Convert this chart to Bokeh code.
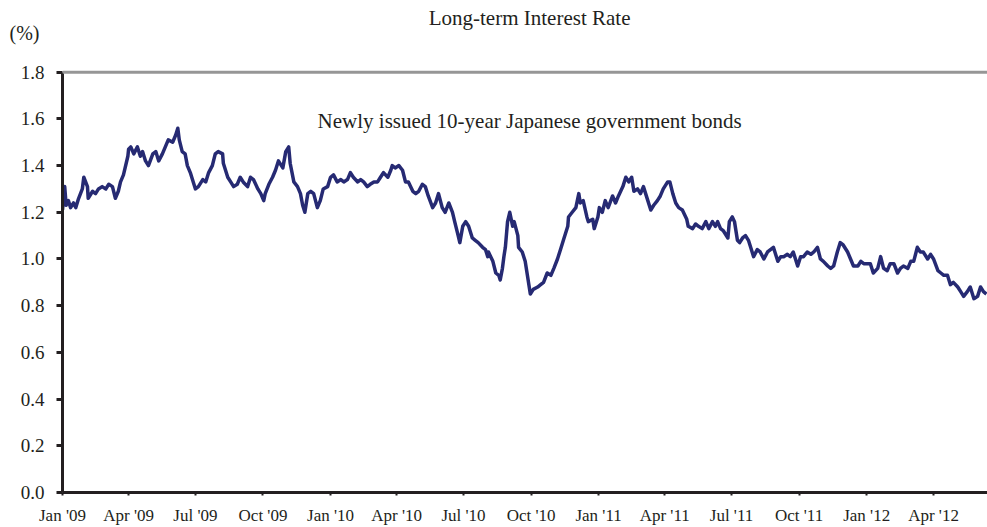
import pandas as pd
from bokeh.plotting import figure
from bokeh.models import Range1d, FixedTicker, Label, Span, NumeralTickFormatter, LinearAxis
from bokeh.embed import file_html
from bokeh.resources import INLINE

# ---------------- data ----------------
start_date = "2009-01-01"
# observation day (days since 2009-01-01)
obs_day = [
    0, 3, 5, 8, 11, 15, 18, 22, 27, 29, 34, 35, 41, 45, 49, 54, 59, 63, 68, 72, 76, 79, 83, 89, 90, 93, 97, 102,
    106, 109, 113, 117, 123, 127, 131, 136, 140, 144, 150, 154, 157, 159, 163, 167, 170, 174, 178, 181, 185, 191,
    195, 199, 204, 208, 212,
    218, 219, 225, 229, 233, 238, 242, 246, 252, 256, 260, 266, 270, 274, 276, 281, 286, 290, 294, 300, 304, 308,
    310, 315, 320, 324, 327, 330, 334, 338, 342, 347, 351, 355, 361, 365, 369, 374, 379, 383, 388, 392, 396, 402,
    406, 410, 415, 419, 424,
    429, 433, 437, 443, 447, 449, 453, 458, 463, 467, 471, 477, 481, 485, 490, 494, 498, 504, 508, 512, 517, 521,
    526, 531, 534, 538, 541, 545, 549, 553, 558, 562, 566, 572, 576, 579, 580, 586, 590, 594, 596, 599, 601, 603,
    606, 609, 613, 615, 620, 621, 626, 630, 633, 637,
    641, 647, 651, 655, 660, 665, 669, 674, 678, 682, 688, 689, 694, 699, 703, 705, 709, 714, 716, 722, 724, 729,
    731, 735, 739, 743, 749, 753, 757, 763, 767, 771, 775, 778, 783, 787, 791, 797, 801, 805, 810, 814, 818, 824,
    827, 831, 835, 839, 844,
    850, 852, 858, 862, 866, 871, 876, 880, 885, 889, 892, 896, 900, 906, 908, 912, 915, 919, 922, 926, 930, 934,
    937, 941, 946, 950, 955, 960, 964, 968, 974, 978, 982, 987, 991, 995, 1001, 1005, 1009, 1014, 1019, 1023,
    1028, 1032, 1036, 1042, 1046, 1050, 1055, 1059,
    1063, 1069, 1073, 1077, 1083, 1087, 1091, 1096, 1100, 1104, 1110, 1114, 1118, 1123, 1127, 1132, 1137, 1141,
    1145, 1151, 1155, 1159, 1164, 1168, 1172, 1178, 1182, 1186, 1192, 1196, 1200, 1205, 1209, 1213, 1219, 1223,
    1227, 1232, 1236, 1241, 1246, 1250, 1254, 1258,
]
# newly issued 10-year JGB yield (%)
jgb10y = [
    1.21, 1.31, 1.23, 1.25, 1.22, 1.24, 1.22, 1.26, 1.30, 1.35, 1.31, 1.26, 1.29, 1.28, 1.30, 1.31, 1.30, 1.32,
    1.31, 1.26, 1.29, 1.33, 1.36, 1.44, 1.47, 1.48, 1.45, 1.48, 1.44, 1.46, 1.42, 1.40, 1.45, 1.46, 1.42, 1.45,
    1.48, 1.51, 1.50, 1.53, 1.56, 1.51, 1.46, 1.45, 1.40, 1.37, 1.33, 1.30, 1.31, 1.34, 1.33, 1.37, 1.40, 1.45,
    1.46,
    1.45, 1.41, 1.35, 1.33, 1.31, 1.32, 1.35, 1.33, 1.31, 1.35, 1.34, 1.30, 1.28, 1.25, 1.28, 1.32, 1.35, 1.38,
    1.42, 1.39, 1.46, 1.48, 1.41, 1.33, 1.31, 1.28, 1.23, 1.20, 1.28, 1.29, 1.28, 1.22, 1.25, 1.30, 1.31, 1.35,
    1.36, 1.33, 1.34, 1.33, 1.34, 1.37, 1.35, 1.33, 1.34, 1.33, 1.31, 1.32, 1.33,
    1.33, 1.35, 1.37, 1.35, 1.38, 1.40, 1.39, 1.40, 1.38, 1.33, 1.33, 1.29, 1.28, 1.29, 1.32, 1.31, 1.27, 1.22,
    1.24, 1.28, 1.22, 1.20, 1.24, 1.20, 1.16, 1.11, 1.07, 1.14, 1.16, 1.14, 1.09, 1.08, 1.07, 1.05, 1.04, 1.01,
    1.03, 0.99, 0.94, 0.93, 0.91, 0.96, 1.01, 1.05, 1.16, 1.20, 1.14, 1.16, 1.10, 1.05, 1.03, 0.99, 0.93, 0.85,
    0.87, 0.88, 0.89, 0.90, 0.94, 0.93, 0.96, 1.00, 1.04, 1.08, 1.14, 1.18, 1.20, 1.22, 1.28, 1.24, 1.25, 1.18,
    1.16, 1.17, 1.13, 1.18, 1.22, 1.20, 1.25, 1.22, 1.27, 1.24, 1.27, 1.31, 1.35, 1.33, 1.35, 1.29, 1.30, 1.28,
    1.31, 1.25, 1.21, 1.23, 1.25, 1.27, 1.30, 1.33, 1.33, 1.28, 1.24, 1.22, 1.21,
    1.17, 1.14, 1.13, 1.15, 1.14, 1.13, 1.16, 1.13, 1.16, 1.14, 1.16, 1.13, 1.12, 1.09, 1.16, 1.18, 1.16, 1.08,
    1.07, 1.09, 1.10, 1.08, 1.05, 1.01, 1.04, 1.03, 1.00, 1.03, 1.04, 1.05, 0.99, 1.01, 1.01, 1.02, 1.01, 1.03,
    0.97, 1.01, 1.01, 1.03, 1.02, 1.03, 1.05, 1.00, 0.99, 0.97, 0.96, 0.97, 1.03, 1.07,
    1.06, 1.03, 1.00, 0.97, 0.97, 0.99, 0.98, 0.98, 0.98, 0.94, 0.96, 1.01, 0.96, 0.95, 0.98, 0.98, 0.94, 0.96,
    0.97, 0.96, 0.99, 0.99, 1.05, 1.03, 1.03, 1.00, 1.02, 1.00, 0.95, 0.94, 0.93, 0.93, 0.89, 0.90, 0.88, 0.86,
    0.84, 0.86, 0.88, 0.83, 0.84, 0.88, 0.86, 0.85,
]
assert len(obs_day) == len(jgb10y)

tick_dates = ["2009-01-01", "2009-04-01", "2009-07-01", "2009-10-01",
              "2010-01-01", "2010-04-01", "2010-07-01", "2010-10-01",
              "2011-01-01", "2011-04-01", "2011-07-01", "2011-10-01",
              "2012-01-01", "2012-04-01"]
tick_labels = ["Jan '09", "Apr '09", "Jul '09", "Oct '09",
               "Jan '10", "Apr '10", "Jul '10", "Oct '10",
               "Jan '11", "Apr '11", "Jul '11", "Oct '11",
               "Jan '12", "Apr '12"]
y_ticks = [0.0, 0.2, 0.4, 0.6, 0.8, 1.0, 1.2, 1.4, 1.6, 1.8]
y_max = 1.8

title_text = "Long-term Interest Rate"
unit_text = "(%)"
series_text = "Newly issued 10-year Japanese government bonds"

# ---------------- build ----------------
def to_ms(ts):
    return float((pd.Timestamp(ts) - pd.Timestamp("1970-01-01")) // pd.Timedelta("1ms"))

dates = pd.to_datetime(start_date) + pd.to_timedelta(obs_day, unit="D")

FONT = "Liberation Serif"
INK = "#231f20"

# frame reaches the top of the canvas; 1.8 sits 72px below the top
Y_TOP = 2.107          # data value at the top edge of the canvas
Y_TITLE = 2.030        # title row
Y_UNIT = 1.966         # "(%)" row

p = figure(width=987, height=527, x_axis_type="datetime",
           output_backend="svg", toolbar_location=None,
           x_range=Range1d(to_ms("2009-01-01"), to_ms("2012-06-13 12:00")),
           y_range=Range1d(0, Y_TOP), y_axis_location=None,
           min_border_left=62, min_border_right=0,
           min_border_top=0, min_border_bottom=33)

p.line(dates, jgb10y, line_color="#262a73", line_width=3.5, line_join="round")

p.grid.visible = False
p.outline_line_color = None
p.background_fill_color = "white"
p.border_fill_color = "white"

p.add_layout(Span(location=y_max, dimension="width", line_color="#969696", line_width=3))

# x axis
tick_ms = [to_ms(d) for d in tick_dates]
xa = p.xaxis[0]
xa.ticker = FixedTicker(ticks=tick_ms, minor_ticks=[])
xa.major_label_overrides = {t: lab for t, lab in zip(tick_ms, tick_labels)}
xa.axis_line_width = 3
xa.axis_line_color = INK
xa.major_tick_in = 0
xa.major_tick_out = 3
xa.major_tick_line_width = 2
xa.major_tick_line_color = INK
xa.minor_tick_out = 0
xa.minor_tick_in = 0
xa.major_label_text_font = FONT
xa.major_label_text_color = INK
xa.major_label_text_font_size = "17px"
xa.major_label_standoff = 10

# main y axis: line, tick marks and labels, limited to 0..1.8
ya = LinearAxis(ticker=FixedTicker(ticks=y_ticks, minor_ticks=[]), bounds=(0, y_max),
                formatter=NumeralTickFormatter(format="0.0"),
                axis_line_width=3, axis_line_color=INK,
                major_tick_in=0, major_tick_out=6, major_tick_line_width=3, major_tick_line_color=INK,
                minor_tick_in=0, minor_tick_out=0,
                major_label_text_font=FONT, major_label_text_color=INK,
                major_label_text_font_size="19px", major_label_standoff=12)
p.add_layout(ya, "left")

# unit label "(%)" above the tick labels, via an extra bare axis
yu = LinearAxis(ticker=FixedTicker(ticks=[Y_UNIT], minor_ticks=[]),
                major_label_overrides={Y_UNIT: unit_text},
                axis_line_color=None, major_tick_line_color=None,
                major_tick_in=0, major_tick_out=0, minor_tick_in=0, minor_tick_out=0,
                major_label_text_font=FONT, major_label_text_color=INK,
                major_label_text_font_size="20px", major_label_standoff=-22)
p.add_layout(yu, "left")

p.add_layout(Label(x=to_ms("2010-09-29"), y=Y_TITLE, text=title_text,
                   text_align="center", text_baseline="middle",
                   text_font=FONT, text_font_size="21px", text_color=INK))
p.add_layout(Label(x=to_ms("2010-09-29"), y=1.59, text=series_text,
                   text_align="center", text_baseline="middle",
                   text_font=FONT, text_font_size="21px", text_color=INK))

open("out.html", "w").write(file_html(p, INLINE))
